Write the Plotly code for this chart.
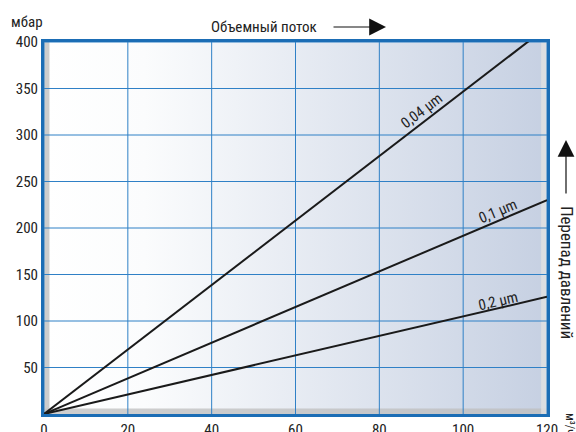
import plotly.graph_objects as go

# Data
flow = [0, 120]
series_names = ["0,04 µm", "0,1 µm", "0,2 µm"]
dp_004 = [0, 416]
dp_01 = [0, 230]
dp_02 = [0, 126]
x_ticks = [0, 20, 40, 60, 80, 100, 120]
y_ticks = [50, 100, 150, 200, 250, 300, 350, 400]

FONT = "Liberation Sans Narrow, Roboto Condensed, Open Sans, sans-serif"
GRID = "#2f80c6"
BORDER = "#1b6db5"

fig = go.Figure()

# gradient background
fig.add_trace(go.Scatter(
    x=[0, 120, 120, 0, 0], y=[0, 0, 400, 400, 0], mode="lines",
    line=dict(width=0), fill="toself",
    fillgradient=dict(type="horizontal",
                      colorscale=[[0, "#ffffff"], [0.2, "#fbfcfd"], [1, "#c6d0e2"]]),
    hoverinfo="skip", showlegend=False))

# inner shadow bands
fig.add_trace(go.Scatter(
    x=[0, 120, 120, 0, 0], y=[0, 0, 6, 6, 0], mode="lines", line=dict(width=0),
    fill="toself", fillcolor="rgba(190,190,190,0.75)", hoverinfo="skip", showlegend=False))
fig.add_trace(go.Scatter(
    x=[0, 1.3, 1.3, 0, 0], y=[0, 0, 400, 400, 0], mode="lines", line=dict(width=0),
    fill="toself", fillcolor="rgba(195,195,195,0.85)", hoverinfo="skip", showlegend=False))
fig.add_trace(go.Scatter(
    x=[118.6, 120, 120, 118.6, 118.6], y=[0, 0, 400, 400, 0], mode="lines", line=dict(width=0),
    fill="toself", fillcolor="rgba(225,225,225,0.8)", hoverinfo="skip", showlegend=False))

# grid lines
gx, gy = [], []
for t in x_ticks:
    gx += [t, t, None]
    gy += [0, 400, None]
for t in y_ticks:
    gx += [0, 120, None]
    gy += [t, t, None]
fig.add_trace(go.Scatter(x=gx, y=gy, mode="lines", line=dict(color=GRID, width=1),
                         hoverinfo="skip", showlegend=False))

for name, vals in zip(series_names, [dp_004, dp_01, dp_02]):
    fig.add_trace(go.Scatter(x=flow, y=vals, mode="lines", name=name,
                             line=dict(color="#1a1a1a", width=2), showlegend=False))

fig.update_xaxes(range=[0, 120], tickvals=x_ticks, showgrid=False, zeroline=False,
                 showline=True, mirror=True, linecolor=BORDER, linewidth=3,
                 ticks="", automargin=False,
                 tickfont=dict(size=15, color="#222", family=FONT))
fig.update_yaxes(range=[0, 400], tickvals=y_ticks, showgrid=False, zeroline=False,
                 showline=True, mirror=True, linecolor=BORDER, linewidth=3,
                 ticks="", automargin=False,
                 tickfont=dict(size=15, color="#222", family=FONT))


def px(xp):
    return (xp - 44) / 503


def py(yp):
    return (414 - yp) / 372


TF = dict(size=15, family=FONT, color="#222")
C = dict(xanchor="center", yanchor="middle")
ann = []
ann.append(dict(x=90, y=326, xref="x", yref="y", text="0,04 µm", showarrow=False,
                textangle=-37, font=TF, **C))
ann.append(dict(x=108.4, y=218, xref="x", yref="y", text="0,1 µm", showarrow=False,
                textangle=-23, font=TF, **C))
ann.append(dict(x=108.4, y=122, xref="x", yref="y", text="0,2 µm", showarrow=False,
                textangle=-13, font=TF, **C))
# top title with arrow
ann.append(dict(x=px(264), y=py(27), xref="paper", yref="paper",
                text="Объемный поток", showarrow=False, font=TF, **C))
ann.append(dict(x=px(386), y=py(27), xref="paper", yref="paper",
                ax=-54, ay=0, text="", showarrow=True, arrowhead=2, arrowsize=2.8,
                arrowwidth=1.2, arrowcolor="#111", **C))
# right label with arrow
ann.append(dict(x=px(567), y=py(272), xref="paper", yref="paper",
                text="Перепад давлений", showarrow=False, textangle=90,
                font=dict(size=17, family=FONT, color="#222"), **C))
ann.append(dict(x=px(566), y=py(140), xref="paper", yref="paper",
                ax=0, ay=55, text="", showarrow=True, arrowhead=2, arrowsize=2.8,
                arrowwidth=1.2, arrowcolor="#111", **C))
# units
ann.append(dict(x=px(27), y=py(22), xref="paper", yref="paper",
                text="мбар", showarrow=False, font=TF, **C))
ann.append(dict(x=px(570), y=py(424), xref="paper", yref="paper",
                text="м³/ч", showarrow=False, textangle=90,
                font=dict(size=12, family=FONT, color="#222"), **C))

fig.update_layout(width=576, height=432, margin=dict(l=44, r=29, t=42, b=18),
                  paper_bgcolor="white", plot_bgcolor="white", annotations=ann,
                  showlegend=False)

fig.write_html("out.html", config={"displayModeBar": False},
               post_script="document.body.style.margin='0';document.body.style.overflow='hidden';")
